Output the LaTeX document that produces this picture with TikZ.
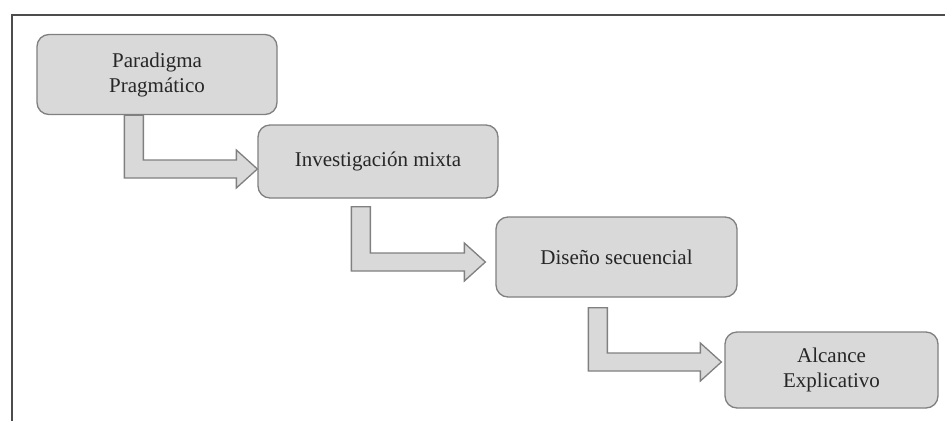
\documentclass[tikz,border=0pt]{standalone}
\usepackage{fontspec}
\setmainfont{Liberation Serif}
\usetikzlibrary{calc}

\definecolor{cajagris}{HTML}{D9D9D9}
\definecolor{bordegris}{HTML}{808080}
\definecolor{textogris}{HTML}{262626}

% bent arrow: #1 top of the shaft (left edge), #2 tip
\newcommand{\flechacodo}[2]{%
  \draw[flecha] let \p1=(#1), \p2=(#2) in
    (\x1,\y1) -- (\x1+19pt,\y1) -- (\x1+19pt,\y2+9pt) -- (\x2-21pt,\y2+9pt)
    -- (\x2-21pt,\y2+19pt) -- (\x2,\y2) -- (\x2-21pt,\y2-19pt)
    -- (\x2-21pt,\y2-9pt) -- (\x1,\y2-9pt) -- cycle;}

\begin{document}
\begin{tikzpicture}[
  x=1pt, y=-1pt,
  caja/.style={draw=bordegris, line width=1.3pt, fill=cajagris, rounded corners=12pt,
    align=center, text=textogris, font=\fontsize{21}{25}\selectfont, inner sep=2pt},
  flecha/.style={draw=bordegris, line width=1.3pt, fill=cajagris, line join=miter},
  marco/.style={draw=black!70, line width=2.5pt}
]
\useasboundingbox (0,0) rectangle (945,421);

% Frame
\draw[marco] (945,15) -- (12,15) -- (12,421);

% Boxes
\node[caja, minimum width=240pt, minimum height=80pt] (par) at (157,74.5) {Paradigma\\Pragmático};
\node[caja, minimum width=240pt, minimum height=73pt] (inv) at (378,161.5) {Investigación mixta};
\node[caja, minimum width=241pt, minimum height=80pt] (dis) at (616.5,257) {Diseño secuencial};
\node[caja, minimum width=213pt, minimum height=76pt] (alc) at (831.5,370) {Alcance\\Explicativo};

% Arrow ends
\coordinate (p1) at ($(par.south west)+(88,0)$);
\coordinate (t1) at ($(inv.west)+(0,7.5)$);
\coordinate (p2) at ($(inv.south west)+(94,8)$);
\coordinate (t2) at ($(dis.west)+(-10,5)$);
\coordinate (p3) at ($(dis.south west)+(93,10)$);
\coordinate (t3) at ($(alc.west)+(-3,-8)$);

% Bent arrows
\flechacodo{p1}{t1}
\flechacodo{p2}{t2}
\flechacodo{p3}{t3}

\end{tikzpicture}
\end{document}
